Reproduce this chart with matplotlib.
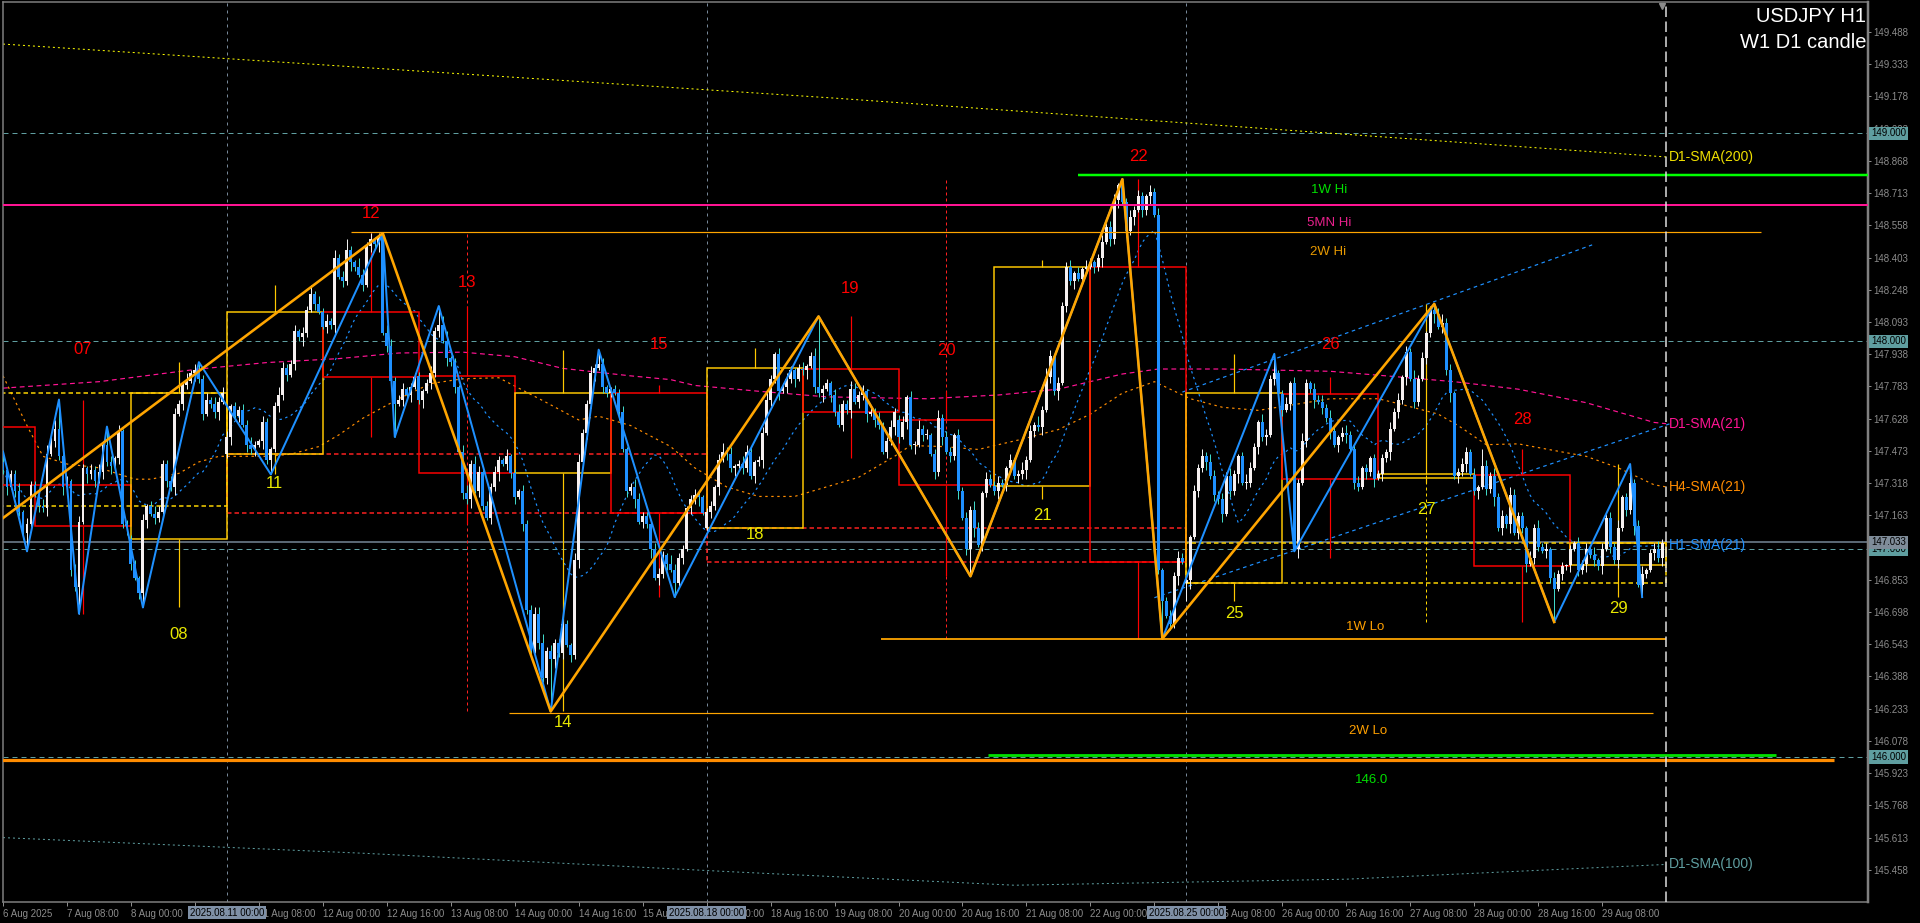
import numpy as np
import pandas as pd
import matplotlib
matplotlib.use('Agg')
import matplotlib.pyplot as plt
from matplotlib.patches import Rectangle
from matplotlib import transforms

plt.rcParams['font.family'] = ['Liberation Sans', 'DejaVu Sans']

# ---------------- data ----------------
session_days = ['2025-08-06', '2025-08-07', '2025-08-08', '2025-08-11', '2025-08-12',
                '2025-08-13', '2025-08-14', '2025-08-15', '2025-08-18', '2025-08-19',
                '2025-08-20', '2025-08-21', '2025-08-22', '2025-08-25', '2025-08-26',
                '2025-08-27', '2025-08-28', '2025-08-29']

# H1 closes per session day (6 Aug starts at 16:00)
c_aug06 = [147.38, 147.30, 147.36, 147.28, 147.18, 147.08, 147.12, 147.31]
c_aug07 = [147.26, 147.21, 147.20, 147.46, 147.52, 147.58, 147.45, 147.30, 147.33, 146.90, 146.82, 147.13,
           147.39, 147.36, 147.38, 147.33, 147.37, 147.50, 147.42, 147.40, 147.44, 147.57, 147.12, 147.11]
c_aug08 = [146.93, 146.86, 146.79, 147.14, 147.21, 147.17, 147.15, 147.18, 147.41, 147.33, 147.30, 147.65,
           147.70, 147.79, 147.81, 147.85, 147.86, 147.82, 147.65, 147.72, 147.70, 147.66, 147.71, 147.75]
c_aug11 = [147.54, 147.69, 147.64, 147.67, 147.60, 147.50, 147.48, 147.50, 147.52, 147.61, 147.43, 147.48,
           147.69, 147.74, 147.87, 147.84, 147.89, 148.05, 148.02, 148.04, 148.15, 148.23, 148.18, 148.14]
c_aug12 = [148.07, 148.10, 148.08, 148.40, 148.31, 148.29, 148.44, 148.38, 148.36, 148.32, 148.27, 148.46,
           148.49, 148.47, 148.50, 148.04, 147.98, 147.81, 147.70, 147.72, 147.77, 147.74, 147.78, 147.83]
c_aug13 = [147.72, 147.76, 147.80, 147.85, 148.05, 148.08, 148.00, 147.92, 147.90, 147.78, 147.47, 147.27,
           147.24, 147.41, 147.28, 147.37, 147.21, 147.15, 147.30, 147.37, 147.43, 147.41, 147.45, 147.365]
c_aug14 = [147.25, 147.28, 147.12, 146.71, 146.51, 146.69, 146.55, 146.38, 146.51, 146.47, 146.55, 146.50,
           146.64, 146.54, 146.49, 146.95, 147.42, 147.56, 147.70, 147.85, 147.87, 147.89, 147.78, 147.75]
c_aug15 = [147.77, 147.75, 147.66, 147.48, 147.28, 147.30, 147.24, 147.13, 147.16, 147.12, 147.00, 146.86,
           146.88, 146.97, 146.93, 146.90, 146.84, 146.96, 147.00, 147.20, 147.24, 147.26, 147.25, 147.175]
c_aug18 = [147.18, 147.21, 147.30, 147.43, 147.47, 147.46, 147.39, 147.40, 147.41, 147.39, 147.47, 147.35,
           147.42, 147.43, 147.56, 147.72, 147.82, 147.94, 147.76, 147.78, 147.82, 147.86, 147.82, 147.87]
c_aug19 = [147.86, 147.88, 147.93, 147.78, 147.75, 147.77, 147.80, 147.74, 147.66, 147.60, 147.70, 147.67,
           147.77, 147.71, 147.74, 147.76, 147.65, 147.66, 147.62, 147.60, 147.47, 147.52, 147.59, 147.66]
c_aug20 = [147.54, 147.61, 147.73, 147.50, 147.50, 147.58, 147.55, 147.55, 147.46, 147.37, 147.63, 147.54,
           147.47, 147.45, 147.55, 147.28, 147.15, 147.00, 147.19, 147.10, 147.02, 147.27, 147.34, 147.31]
c_aug21 = [147.28, 147.32, 147.31, 147.39, 147.43, 147.35, 147.36, 147.38, 147.43, 147.57, 147.60, 147.59,
           147.67, 147.83, 147.93, 147.76, 147.80, 148.17, 148.36, 148.29, 148.33, 148.30, 148.35, 148.36]
c_aug22 = [148.38, 148.36, 148.40, 148.48, 148.55, 148.49, 148.68, 148.75, 148.67, 148.53, 148.60, 148.63,
           148.70, 148.63, 148.70, 148.72, 148.61, 146.90, 146.75, 146.68, 146.64, 146.87, 146.96, 146.94]
c_aug25 = [146.85, 147.06, 147.28, 147.39, 147.45, 147.42, 147.35, 147.26, 147.24, 147.17, 147.35, 147.28,
           147.36, 147.45, 147.32, 147.32, 147.39, 147.49, 147.61, 147.54, 147.55, 147.82, 147.85, 147.75]
c_aug26 = [147.67, 147.70, 147.80, 147.00, 147.32, 147.52, 147.80, 147.77, 147.72, 147.71, 147.68, 147.63,
           147.57, 147.50, 147.54, 147.56, 147.55, 147.48, 147.32, 147.30, 147.39, 147.37, 147.44, 147.34]
c_aug27 = [147.36, 147.44, 147.47, 147.58, 147.66, 147.72, 147.83, 147.95, 147.82, 147.71, 147.82, 147.92,
           148.04, 148.15, 148.13, 148.07, 148.09, 147.86, 147.75, 147.35, 147.37, 147.41, 147.47, 147.36]
c_aug28 = [147.28, 147.30, 147.40, 147.29, 147.35, 147.25, 147.10, 147.16, 147.12, 147.26, 147.08, 147.16,
           147.10, 146.93, 146.96, 147.10, 147.01, 146.99, 147.00, 146.86, 146.81, 146.88, 146.92, 146.92]
c_aug29 = [147.00, 147.03, 146.90, 146.93, 147.00, 146.97, 146.95, 146.92, 147.00, 147.15, 147.01, 146.95,
           147.10, 147.25, 147.19, 147.32, 147.11, 146.83, 146.88, 146.90, 146.98, 147.00, 146.96, 147.03]

# daily opens (D1 candle boxes), first one is the 6 Aug open
day_open = [147.586, 147.31, 147.05, 147.46, 148.14, 147.834, 147.365, 147.75, 147.10,
            147.869, 147.624, 147.306, 148.359, 146.84, 147.746, 147.343, 147.359, 146.923]
first_bar_open = 147.42
week1_open = 147.208   # week of 4 Aug, opened off-screen

# upper / lower wick length per bar, in 0.01 yen
up_wick = ["31224132",
           "213424512133213242231312", "221312432223214132231323", "312232421321243223132414",
           "231423521432312343223122", "212323451213424312232131", "213223342322321342232131",
           "122312432213321432212321", "221342312432123421323212", "312432213422432313241232",
           "231324231242321323243132", "232131242314243132231313", "212323314232321323123232",
           "213232432324212432143221", "231324213232421342231212", "221323132423121342312321",
           "318324231432213242313221", "213232413232412323412342"]
dn_wick = ["24132312",
           "132413241323142313241324", "313241321324132142312341", "241313231424132313242131",
           "132413242131324132413231", "241323142313241321324132", "313241323142313241324132",
           "214132413241323142313241", "132413241321324132413241", "241324132132413241321324",
           "313241321324132413241321", "241321324132413241324132", "132413241324132412413241",
           "941324132413241321324132", "313241324132413241321324", "132413241321324132413241",
           "241324132413241321324132", "313241324132413241321324"]

# zigzag pivots (bar index, price)
zz_blue_bar = [0, 6, 14, 19, 26, 35, 49, 67, 95, 98, 109, 137, 149, 168, 204, 242, 280, 290, 318, 323, 358, 388, 407, 410]
zz_blue_px = [147.47, 146.99, 147.72, 146.69, 147.59, 146.72, 147.90, 147.36, 148.52, 147.54, 148.17, 146.22,
              147.96, 146.77, 148.12, 146.87, 148.78, 146.57, 147.94, 146.99, 148.18, 146.65, 147.41, 146.77]
zz_orange_bar = [0, 95, 137, 204, 242, 280, 290, 358, 388]
zz_orange_px = [147.15, 148.52, 146.22, 148.12, 146.87, 148.78, 146.57, 148.18, 146.65]

# moving averages (bar index, price)
d1_sma200_bar = [0, 208, 416]
d1_sma200_px = [149.43, 149.17, 148.887]
d1_sma100_bar = [0, 91, 183, 253, 336, 416]
d1_sma100_px = [145.613, 145.537, 145.448, 145.384, 145.413, 145.484]
d1_sma21_bar = [0, 24, 49, 66, 84, 99, 115, 128, 140, 157, 167, 173, 189, 206, 231, 249, 264,
                280, 289, 305, 332, 346, 363, 379, 396, 413, 416]
d1_sma21_px = [147.775, 147.806, 147.867, 147.898, 147.917, 147.944, 147.948, 147.926, 147.87, 147.834,
               147.816, 147.788, 147.76, 147.733, 147.724, 147.742, 147.77, 147.843, 147.867, 147.867,
               147.856, 147.834, 147.806, 147.77, 147.705, 147.61, 147.604]
h4_sma21_bar = [0, 6, 10, 16, 24, 33, 37, 44, 49, 54, 66, 72, 79, 84, 90, 99, 107, 115, 124, 136, 144,
                149, 157, 167, 173, 181, 189, 198, 206, 214, 223, 227, 235, 244, 247, 255, 264, 272,
                280, 288, 297, 305, 314, 332, 344, 350, 359, 364, 371, 379, 388, 396, 404, 413, 416]
h4_sma21_px = [147.834, 147.595, 147.447, 147.41, 147.392, 147.337, 147.337, 147.365, 147.42, 147.447,
               147.447, 147.457, 147.494, 147.55, 147.63, 147.724, 147.797, 147.82, 147.825, 147.705,
               147.622, 147.64, 147.595, 147.494, 147.392, 147.30, 147.254, 147.254, 147.30, 147.346,
               147.447, 147.499, 147.494, 147.48, 147.494, 147.53, 147.576, 147.65, 147.751, 147.806,
               147.724, 147.683, 147.668, 147.724, 147.724, 147.696, 147.65, 147.595, 147.503, 147.507,
               147.475, 147.447, 147.392, 147.31, 147.30]
chan_up_bar = [295, 397.5]
chan_up_px = [147.756, 148.464]
chan_lo_bar = [288, 417]
chan_lo_px = [146.767, 147.604]

# levels
bid = 147.033
lvl_1w_hi = 148.80
lvl_5mn_hi = 148.657
lvl_2w_hi = 148.528
lvl_1w_lo = 146.568
lvl_2w_lo = 146.214
lvl_green = 146.008
lvl_orange = 145.986
round_levels = [149.0, 148.0, 147.0, 146.0]

# where the day numbers sit (price)
day_label_px = [None, 147.963, 146.592, 147.314, 148.617, 148.285, 146.169, 147.987, 147.07,
                148.252, 147.954, 147.163, 148.887, 146.693, 147.987, 147.19, 147.626, 146.713]

# ---------------- build bars ----------------
day_closes = [c_aug06, c_aug07, c_aug08, c_aug11, c_aug12, c_aug13, c_aug14, c_aug15, c_aug18,
              c_aug19, c_aug20, c_aug21, c_aug22, c_aug25, c_aug26, c_aug27, c_aug28, c_aug29]
lens = [len(d) for d in day_closes]
starts = np.cumsum([0] + lens[:-1])
closes = np.array(sum(day_closes, []))
n = len(closes)
xb = np.arange(n)

times = []
for k, d in enumerate(session_days):
    h0 = 24 - lens[k]
    times += list(pd.date_range(f'{d} {h0:02d}:00', periods=lens[k], freq='h'))

opens = np.empty(n)
opens[0] = first_bar_open
opens[1:] = closes[:-1]
for k in range(1, len(starts)):
    opens[starts[k]] = day_open[k]

up = np.array([int(ch) for ch in ''.join(up_wick)]) / 100.0
dn = np.array([int(ch) for ch in ''.join(dn_wick)]) / 100.0
highs = np.maximum(opens, closes) + up
lows = np.minimum(opens, closes) - dn
for b, p in zip(zz_blue_bar, zz_blue_px):
    if p >= max(opens[b], closes[b]):
        highs[b] = p
    else:
        lows[b] = p

sma_h1 = pd.Series(closes).rolling(21, min_periods=1).mean().values

# ---------------- figure ----------------
W, H = 1920, 923
fig = plt.figure(figsize=(W / 100, H / 100), dpi=100, facecolor='black')
ax_l, ax_r, ax_t, ax_b = 3, 1868, 2, 902
ax = fig.add_axes([ax_l / W, (H - ax_b) / H, (ax_r - ax_l) / W, (ax_b - ax_t) / H], facecolor='black')
ymin, ymax = 145.3033, 149.6323
ax.set_xlim(0.25, 466.5)
ax.set_ylim(ymin, ymax)
PX = 0.72  # points per pixel

for sp in ax.spines.values():
    sp.set_color('#808080')
    sp.set_linewidth(1.5 * PX)
ax.spines['right'].set_linewidth(2.5 * PX)

# round levels and bid
for lv in round_levels:
    ax.axhline(lv, color='#5f9ea0', lw=1 * PX, ls=(0, (5, 4)), zorder=1)
ax.axhline(bid, color='#778899', lw=1.5 * PX, zorder=1)

# week separators
for s in [56, 176, 296]:
    ax.axvline(s, color='#778899', lw=1 * PX, ls=(0, (3, 4)), zorder=1)

# moving averages
ax.plot(d1_sma200_bar, d1_sma200_px, color='#ffff00', lw=1 * PX, ls=(0, (2, 3)), zorder=2)
ax.plot(d1_sma100_bar, d1_sma100_px, color='#5f9ea0', lw=1 * PX, ls=(0, (2, 3)), zorder=2)
ax.plot(d1_sma21_bar, d1_sma21_px, color='#ff1493', lw=1.2 * PX, ls=(0, (4, 3)), zorder=2)
ax.plot(h4_sma21_bar, h4_sma21_px, color='#ff8c00', lw=1.2 * PX, ls=(0, (2, 3)), zorder=2)
ax.plot(xb, sma_h1, color='#1e90ff', lw=1.2 * PX, ls=(0, (2, 3)), zorder=2)
ax.plot(chan_up_bar, chan_up_px, color='#1e90ff', lw=1.2 * PX, ls=(0, (3, 3)), zorder=2)
ax.plot(chan_lo_bar, chan_lo_px, color='#1e90ff', lw=1.2 * PX, ls=(0, (3, 3)), zorder=2)

# weekly candles (dashed)
week_starts = [-64, 56, 176, 296]
for w, s in enumerate(week_starts):
    a, e = max(s, 0), min(s + 120, n)
    wo = week1_open if w == 0 else opens[a]
    wc = closes[e - 1]
    whi, wlo = highs[a:e].max(), lows[a:e].min()
    col = '#ffd700' if wc >= wo else '#ff2020'
    ax.add_patch(Rectangle((s, min(wo, wc)), 120, abs(wc - wo), fill=False, ec=col,
                           lw=1.5 * PX, ls=(0, (3, 2)), zorder=2))
    if w > 0:
        ax.vlines(s + 60, wlo, whi, color=col, lw=1 * PX, linestyles=(0, (3, 3)), zorder=2)

# daily candles (solid boxes)
for k, s in enumerate(starts):
    e = s + lens[k]
    left = e - 24
    do, dc = day_open[k], closes[e - 1]
    dhi, dlo = highs[s:e].max(), lows[s:e].min()
    col = '#ffc800' if dc >= do else '#ff0000'
    ax.add_patch(Rectangle((left, min(do, dc)), 24, abs(dc - do), fill=False, ec=col,
                           lw=1.5 * PX, zorder=3))
    mid = left + 12
    if k > 0:
        ax.vlines(mid, max(do, dc), dhi, color=col, lw=1.2 * PX, zorder=3)
        ax.vlines(mid, dlo, min(do, dc), color=col, lw=1.2 * PX, zorder=3)
        lab = times[s].strftime('%d')
        tcol = '#ff0000' if dc < do else '#e8e800'
        ax.text(mid, day_label_px[k], lab, color=tcol, fontsize=12, ha='center', va='center', zorder=6)

# H1 candles
bull = closes >= opens
ax.vlines(xb[bull], lows[bull], highs[bull], color='#f0f0f0', lw=1 * PX, zorder=4)
ax.vlines(xb[~bull], lows[~bull], highs[~bull], color='#40d8c8', lw=1 * PX, zorder=4)
body_lo = np.minimum(opens, closes)
body_h = np.maximum(np.abs(closes - opens), 0.004)
ax.bar(xb[bull], body_h[bull], bottom=body_lo[bull], width=0.72, color='#f6f0f0', lw=0, zorder=5)
ax.bar(xb[~bull], body_h[~bull], bottom=body_lo[~bull], width=0.72, color='#1e90ff', lw=0, zorder=5)

# zigzags
ax.plot(zz_blue_bar, zz_blue_px, color='#1e90ff', lw=2 * PX, zorder=6)
ax.plot(zz_orange_bar, zz_orange_px, color='#ffa500', lw=2.6 * PX, zorder=6.5)

# high / low levels
ax.hlines(lvl_5mn_hi, -1, 470, color='#ff1493', lw=2 * PX, zorder=7)
ax.hlines(lvl_1w_hi, 269, 470, color='#00ff00', lw=2.5 * PX, zorder=7)
ax.hlines(lvl_2w_hi, 87, 439.75, color='#ffa500', lw=1.2 * PX, zorder=7)
ax.hlines(lvl_1w_lo, 219.5, 416, color='#ffa500', lw=1.8 * PX, zorder=7)
ax.hlines(lvl_2w_lo, 126.5, 412.75, color='#ffa500', lw=1.2 * PX, zorder=7)
ax.hlines(lvl_green, 246.5, 443.5, color='#00e000', lw=2.8 * PX, zorder=7)
ax.hlines(lvl_orange, -1, 458, color='#ff8c00', lw=3.2 * PX, zorder=7)

def lvl_text(bar, price, dy_px, txt, col):
    ax.annotate(txt, (bar, price), xytext=(0, dy_px * PX), textcoords='offset points',
                ha='center', va='center', color=col, fontsize=9.5, zorder=8)

lvl_text(331.75, lvl_1w_hi, -14.5, '1W Hi', '#00e000')
lvl_text(331.75, lvl_5mn_hi, -18, '5MN Hi', '#e8208c')
lvl_text(331.5, lvl_2w_hi, -20, '2W Hi', '#e89a00')
lvl_text(340.75, lvl_1w_lo, 12.5, '1W Lo', '#ffa000')
lvl_text(341.5, lvl_2w_lo, -18, '2W Lo', '#ffa000')
lvl_text(342.25, lvl_green, -25, '146.0', '#00e000')

# MA labels at the right
ma_labels = [('D1-SMA(200)', d1_sma200_px[-1], '#f0e000'),
             ('D1-SMA(21)', d1_sma21_px[-1], '#ff1493'),
             ('H4-SMA(21)', h4_sma21_px[-1], '#ff8c00'),
             ('H1-SMA(21)', sma_h1[-1], '#1e90ff'),
             ('D1-SMA(100)', d1_sma100_px[-1], '#5f9ea0')]
for txt, yv, col in ma_labels:
    ax.text(416.75, yv, txt, color=col, fontsize=10, ha='left', va='center', zorder=8)

# chart shift line
ax.axvline(416, color='#e0e0e0', lw=1.5 * PX, ls=(0, (7, 3)), zorder=8)
ax.plot([414.9], [ymax - 3.5 / 207.9], marker='v', ms=5, color='#8a8a8a', zorder=9, clip_on=False)

# price axis
tick_vals = np.round(149.488 - 0.155 * np.arange(27), 3)
ax.yaxis.tick_right()
ax.set_yticks(tick_vals)
ax.set_yticklabels([f'{v:.3f}' for v in tick_vals])
ax.tick_params(axis='y', colors='#8c8c8c', labelsize=7, length=3 * PX, width=1 * PX, pad=1.5)

# time axis (labels fully under the week-start boxes are left blank)
xt = np.arange(0, n, 16)
hidden = {48, 168, 288}
xl = []
for i in xt:
    if i == 0:
        xl.append('6 Aug 2025')
    elif i in hidden:
        xl.append('')
    else:
        xl.append(f'{times[i].day} {times[i]:%b %H:%M}')
ax.set_xticks(xt)
ax.set_xticklabels(xl)
ax.tick_params(axis='x', colors='#8c8c8c', labelsize=7, length=4 * PX, width=1 * PX, pad=2)
for lb in ax.get_xticklabels():
    lb.set_ha('left')

tr_y = transforms.blended_transform_factory(ax.transAxes, ax.transData)
def price_box(yv, txt, fc):
    ax.text((1871 - ax_l) / (ax_r - ax_l), yv, txt, transform=tr_y, ha='left', va='center',
            fontsize=7, color='black', clip_on=False, zorder=10,
            bbox=dict(boxstyle='square,pad=0.18', fc=fc, ec='none'))

for lv in round_levels:
    price_box(lv, f'{lv:.3f}', '#5f9ea0')
price_box(bid, f'{bid:.3f}', '#7f8c99')

tr_x = transforms.blended_transform_factory(ax.transData, ax.transAxes)
for s in [56, 176, 296]:
    ax.text(s, -10.5 / (ax_b - ax_t), times[s].strftime('%Y.%m.%d %H:%M'), transform=tr_x,
            ha='center', va='center', fontsize=7, color='black', clip_on=False, zorder=10,
            bbox=dict(boxstyle='square,pad=0.2', fc='#7f90a6', ec='none'))

# title
fig.text(1866 / W, 1 - 17 / H, 'USDJPY H1', color='white', fontsize=14.5, ha='right', va='center')
fig.text(1866 / W, 1 - 43 / H, 'W1 D1 candle', color='white', fontsize=14.5, ha='right', va='center')

fig.savefig('out.png', dpi=100, facecolor='black')
